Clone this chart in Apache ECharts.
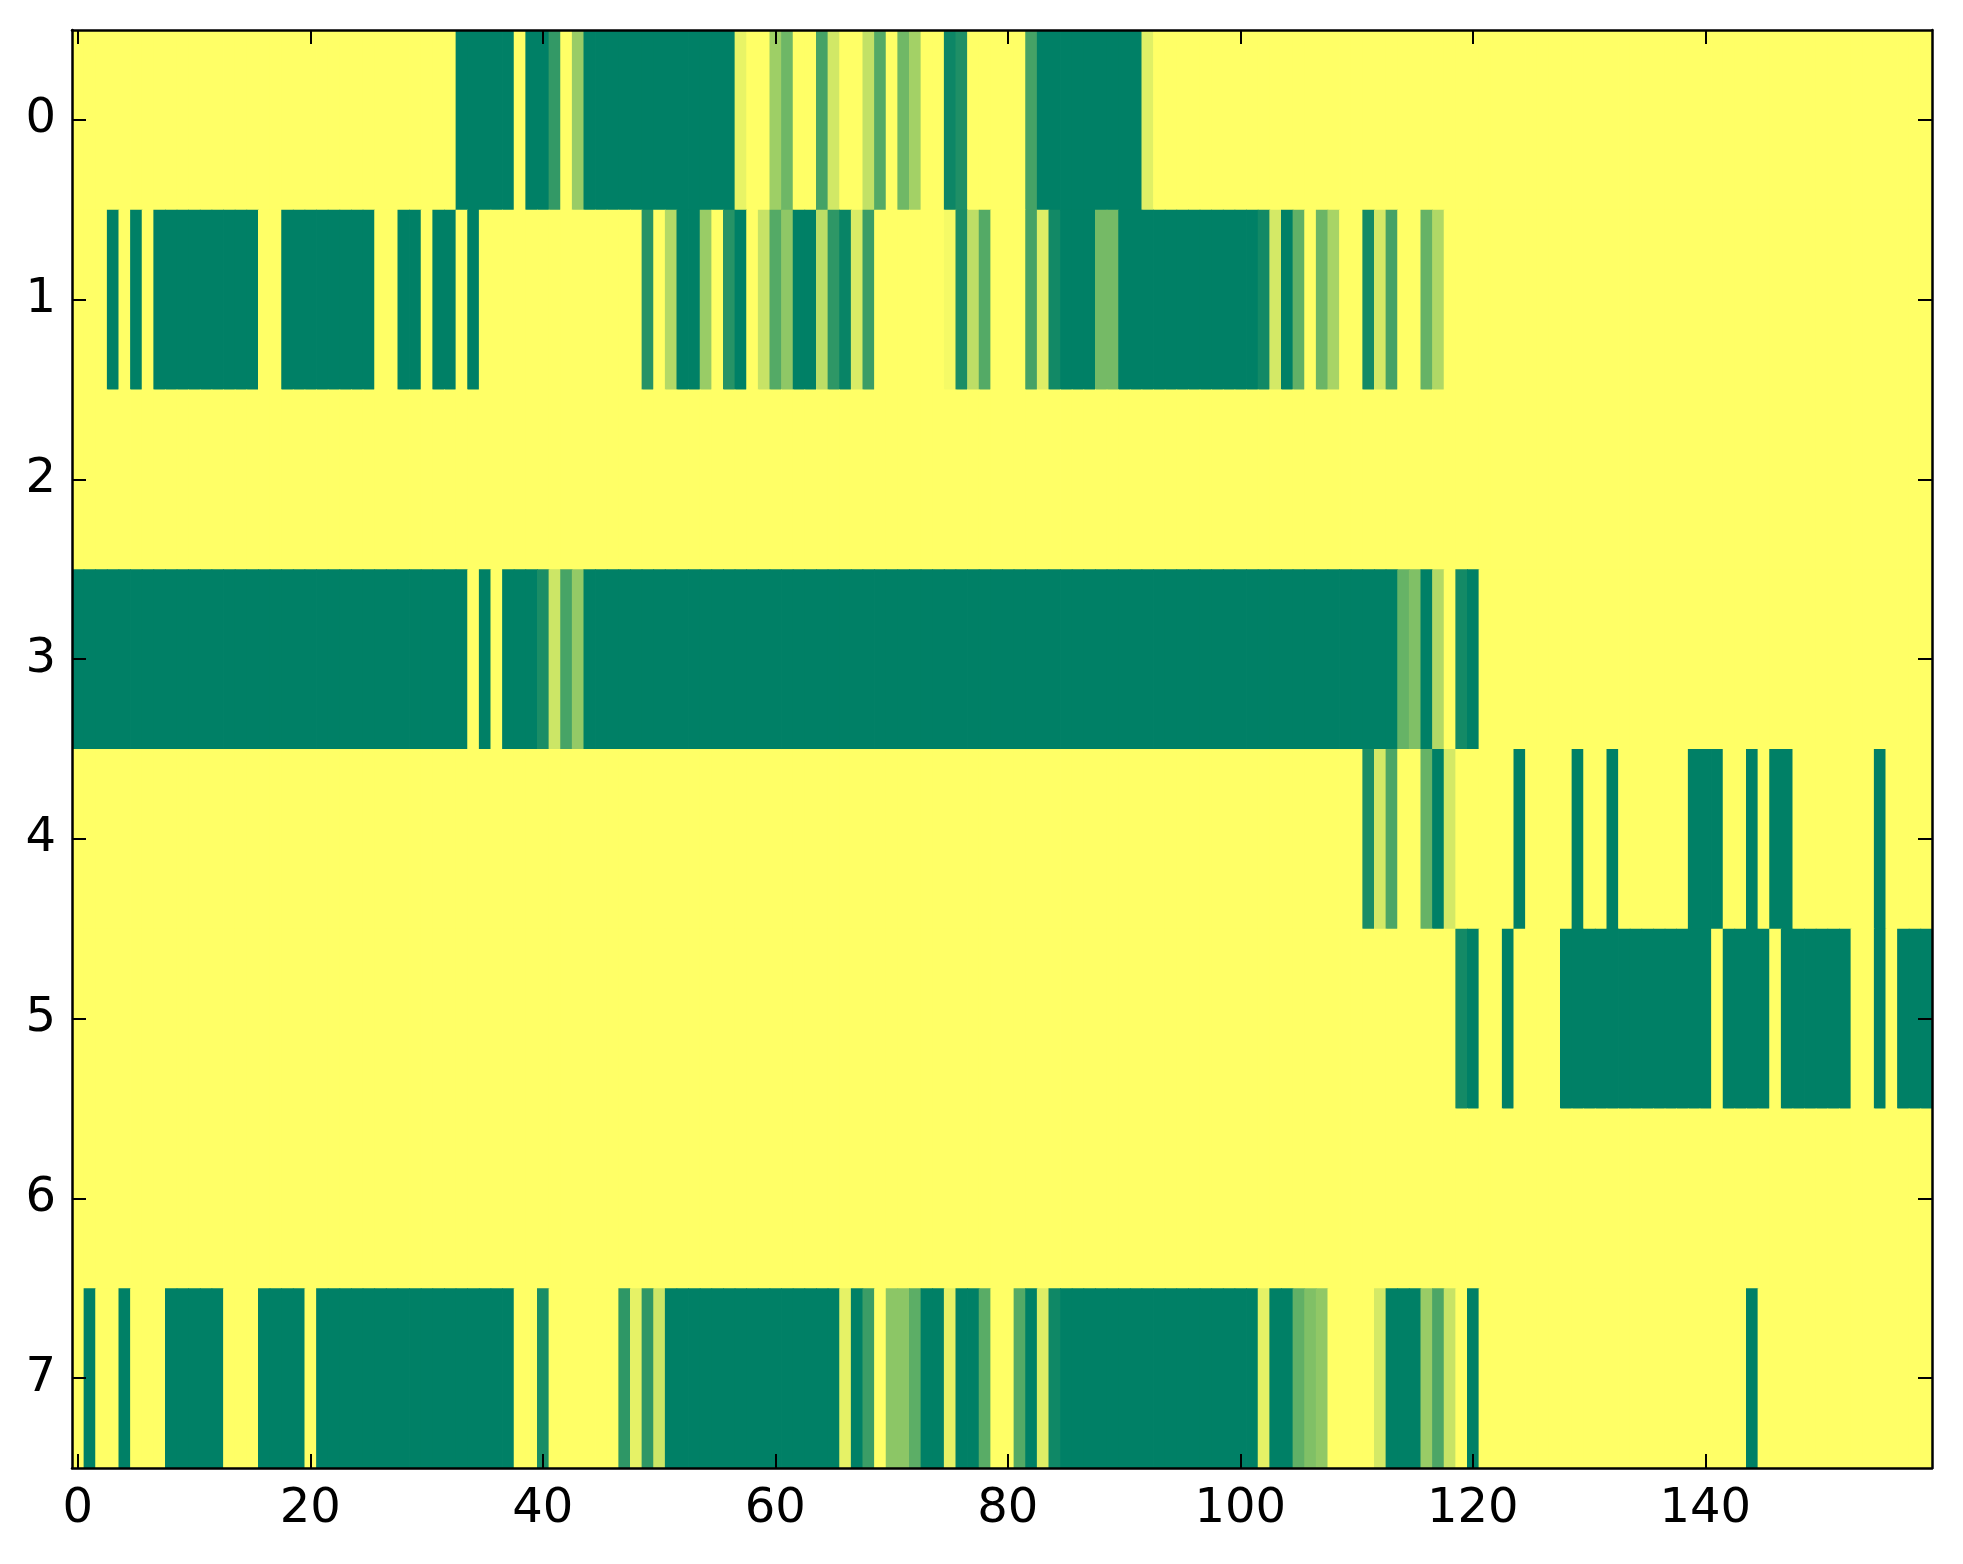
<!DOCTYPE html>
<html>
<head>
<meta charset="utf-8">
<script src="https://cdn.jsdelivr.net/npm/echarts@6/dist/echarts.min.js"></script>
<style>
html,body{margin:0;padding:0;background:#fff;}
#chart{width:1963px;height:1564px;}
</style>
</head>
<body>
<div id="chart"></div>
<script>
// Row labels (y axis, top to bottom)
var rowLabels = ['0','1','2','3','4','5','6','7'];
// Column tick labels shown on the x axis
var xTickLabels = ['0','20','40','60','80','100','120','140'];

// Cell values per row, columns 0..159 (0 = dark green, 1 = yellow)
var row0 = [
 1,1,1,1,1,1,1,1,1,1, 1,1,1,1,1,1,1,1,1,1,
 1,1,1,1,1,1,1,1,1,1, 1,1,1,0,0,0,0,0,1,0,
 0,.2,1,.6,0,0,0,0,0,0, 0,0,0,0,0,0,0,.91,1,1,
 .62,.43,1,1,.27,.82,1,1,.76,.33, 1,.44,.64,1,1,.05,.12,1,1,1,
 1,1,.27,0,0,0,0,0,0,0, 0,0,.88,1,1,1,1,1,1,1,
 1,1,1,1,1,1,1,1,1,1, 1,1,1,1,1,1,1,1,1,1,
 1,1,1,1,1,1,1,1,1,1, 1,1,1,1,1,1,1,1,1,1,
 1,1,1,1,1,1,1,1,1,1, 1,1,1,1,1,1,1,1,1,1
];
var row1 = [
 1,1,1,0,1,0,1,0,0,0, 0,0,0,0,0,0,1,1,0,0,
 0,0,0,0,0,0,1,1,0,0, 1,0,0,1,0,1,1,1,1,1,
 1,1,1,1,1,1,1,1,1,.15, 1,.7,0,0,.6,1,.15,0,1,.78,
 .33,.56,0,0,.74,.18,.03,.85,.23,1, 1,1,1,1,1,.96,.1,.74,.33,1,
 1,1,.27,.87,.07,0,0,0,.46,.46, 0,0,0,0,0,0,0,0,0,0,
 0,0,.07,.83,0,.38,1,.42,.66,1, 1,.08,.83,.27,1,1,.4,.69,1,1,
 1,1,1,1,1,1,1,1,1,1, 1,1,1,1,1,1,1,1,1,1,
 1,1,1,1,1,1,1,1,1,1, 1,1,1,1,1,1,1,1,1,1
];
var row2 = [
 1,1,1,1,1,1,1,1,1,1, 1,1,1,1,1,1,1,1,1,1,
 1,1,1,1,1,1,1,1,1,1, 1,1,1,1,1,1,1,1,1,1,
 1,1,1,1,1,1,1,1,1,1, 1,1,1,1,1,1,1,1,1,1,
 1,1,1,1,1,1,1,1,1,1, 1,1,1,1,1,1,1,1,1,1,
 1,1,1,1,1,1,1,1,1,1, 1,1,1,1,1,1,1,1,1,1,
 1,1,1,1,1,1,1,1,1,1, 1,1,1,1,1,1,1,1,1,1,
 1,1,1,1,1,1,1,1,1,1, 1,1,1,1,1,1,1,1,1,1,
 1,1,1,1,1,1,1,1,1,1, 1,1,1,1,1,1,1,1,1,1
];
var row3 = [
 0,0,0,0,0,0,0,0,0,0, 0,0,0,0,0,0,0,0,0,0,
 0,0,0,0,0,0,0,0,0,0, 0,0,0,0,1,0,1,0,0,0,
 .1,.8,.28,.58,0,0,0,0,0,0, 0,0,0,0,0,0,0,0,0,0,
 0,0,0,0,0,0,0,0,0,0, 0,0,0,0,0,0,0,0,0,0,
 0,0,0,0,0,0,0,0,0,0, 0,0,0,0,0,0,0,0,0,0,
 0,0,0,0,0,0,0,0,0,0, 0,0,0,0,.4,.5,0,.7,1,.08,
 0,1,1,1,1,1,1,1,1,1, 1,1,1,1,1,1,1,1,1,1,
 1,1,1,1,1,1,1,1,1,1, 1,1,1,1,1,1,1,1,1,1
];
var row4 = [
 1,1,1,1,1,1,1,1,1,1, 1,1,1,1,1,1,1,1,1,1,
 1,1,1,1,1,1,1,1,1,1, 1,1,1,1,1,1,1,1,1,1,
 1,1,1,1,1,1,1,1,1,1, 1,1,1,1,1,1,1,1,1,1,
 1,1,1,1,1,1,1,1,1,1, 1,1,1,1,1,1,1,1,1,1,
 1,1,1,1,1,1,1,1,1,1, 1,1,1,1,1,1,1,1,1,1,
 1,1,1,1,1,1,1,1,1,1, 1,.1,.83,.3,1,1,.4,0,.83,1,
 1,1,1,1,0,1,1,1,1,0, 1,1,0,1,1,1,1,1,1,0,
 0,0,1,1,0,1,0,0,1,1, 1,1,1,1,1,0,1,1,1,1
];
var row5 = [
 1,1,1,1,1,1,1,1,1,1, 1,1,1,1,1,1,1,1,1,1,
 1,1,1,1,1,1,1,1,1,1, 1,1,1,1,1,1,1,1,1,1,
 1,1,1,1,1,1,1,1,1,1, 1,1,1,1,1,1,1,1,1,1,
 1,1,1,1,1,1,1,1,1,1, 1,1,1,1,1,1,1,1,1,1,
 1,1,1,1,1,1,1,1,1,1, 1,1,1,1,1,1,1,1,1,1,
 1,1,1,1,1,1,1,1,1,1, 1,1,1,1,1,1,1,1,1,.08,
 0,1,1,0,1,1,1,1,0,0, 0,0,0,0,0,0,0,0,0,0,
 0,1,0,0,0,0,1,0,0,0, 0,0,0,1,1,0,1,0,0,0
];
var row6 = [
 1,1,1,1,1,1,1,1,1,1, 1,1,1,1,1,1,1,1,1,1,
 1,1,1,1,1,1,1,1,1,1, 1,1,1,1,1,1,1,1,1,1,
 1,1,1,1,1,1,1,1,1,1, 1,1,1,1,1,1,1,1,1,1,
 1,1,1,1,1,1,1,1,1,1, 1,1,1,1,1,1,1,1,1,1,
 1,1,1,1,1,1,1,1,1,1, 1,1,1,1,1,1,1,1,1,1,
 1,1,1,1,1,1,1,1,1,1, 1,1,1,1,1,1,1,1,1,1,
 1,1,1,1,1,1,1,1,1,1, 1,1,1,1,1,1,1,1,1,1,
 1,1,1,1,1,1,1,1,1,1, 1,1,1,1,1,1,1,1,1,1
];
var row7 = [
 1,0,1,1,0,1,1,1,0,0, 0,0,0,1,1,1,0,0,0,0,
 1,0,0,0,0,0,0,0,0,0, 0,0,0,0,0,0,0,0,1,1,
 .1,1,1,1,1,1,1,.18,.9,.18, .8,0,0,0,0,0,0,0,0,0,
 0,0,0,0,0,0,.9,0,.23,1, .55,.55,.36,0,0,.9,0,0,.35,1,
 1,.33,0,.87,.06,0,0,0,0,0, 0,0,0,0,0,0,0,0,0,0,
 0,0,.9,0,0,.38,.5,.57,1,1, 1,1,.83,0,0,0,.6,.3,.78,1,
 0,1,1,1,1,1,1,1,1,1, 1,1,1,1,1,1,1,1,1,1,
 1,1,1,1,0,1,1,1,1,1, 1,1,1,1,1,1,1,1,1,1
];

var rows = [row0,row1,row2,row3,row4,row5,row6,row7];
var nCols = row0.length;
var xCats = [];
for (var i = 0; i < nCols; i++) xCats.push(String(i));

var cells = [];
rows.forEach(function (r, y) {
  r.forEach(function (v, x) { cells.push([x, y, v]); });
});

var tickShown = function (idx, val) { return xTickLabels.indexOf(String(val)) >= 0; };
var font = 'DejaVu Sans';
var lineStyle = {color:'#000', width:2.5};

var chart = echarts.init(document.getElementById('chart'), null, {renderer:'canvas'});
chart.setOption({
  animation: false,
  backgroundColor: '#ffffff',
  grid: {left:72, top:30, width:1860, height:1438, containLabel:false},
  visualMap: {show:false, min:0, max:1, dimension:2, seriesIndex:0, inRange:{color:['#008066','#ffff66']}},
  xAxis: [
    {type:'category', data:xCats, position:'bottom', z:10,
     axisLine:{show:true, lineStyle:lineStyle},
     axisTick:{show:true, inside:true, length:14, alignWithLabel:true, interval:function(i,v){return tickShown(i,v);}, lineStyle:{color:'#000', width:2}},
     axisLabel:{show:true, interval:function(i,v){return tickShown(i,v);}, fontSize:48, fontFamily:font, color:'#000', margin:18},
     splitLine:{show:false}},
    {type:'category', data:xCats, position:'top', z:10,
     axisLine:{show:true, lineStyle:lineStyle},
     axisTick:{show:true, inside:true, length:14, alignWithLabel:true, interval:function(i,v){return tickShown(i,v);}, lineStyle:{color:'#000', width:2}},
     axisLabel:{show:false}, splitLine:{show:false}}
  ],
  yAxis: [
    {type:'category', data:rowLabels, inverse:true, position:'left', z:10,
     axisLine:{show:true, lineStyle:lineStyle},
     axisTick:{show:true, inside:true, length:14, alignWithLabel:true, lineStyle:{color:'#000', width:2}},
     axisLabel:{show:true, fontSize:48, fontFamily:font, color:'#000', margin:16},
     splitLine:{show:false}},
    {type:'category', data:rowLabels, inverse:true, position:'right', z:10,
     axisLine:{show:true, lineStyle:lineStyle},
     axisTick:{show:true, inside:true, length:14, alignWithLabel:true, lineStyle:{color:'#000', width:2}},
     axisLabel:{show:false}, splitLine:{show:false}}
  ],
  series: [{
    type:'custom', xAxisIndex:0, yAxisIndex:0, data:cells,
    dimensions:['x','y','v'],
    encode:{x:0, y:1},
    clip:true,
    silent:true,
    renderItem:function (params, api) {
      var c = api.coord([api.value(0), api.value(1)]);
      var s = api.size([1, 1]);
      var lastCol = api.value(0) === nCols - 1;
      var lastRow = api.value(1) === rows.length - 1;
      return {
        type:'rect',
        shape:{x:c[0]-s[0]/2, y:c[1]-s[1]/2, width:s[0]+(lastCol?0:0.8), height:s[1]+(lastRow?0:0.8)},
        style:{fill:api.visual('color'), stroke:null}
      };
    }
  }]
});
</script>
</body>
</html>
